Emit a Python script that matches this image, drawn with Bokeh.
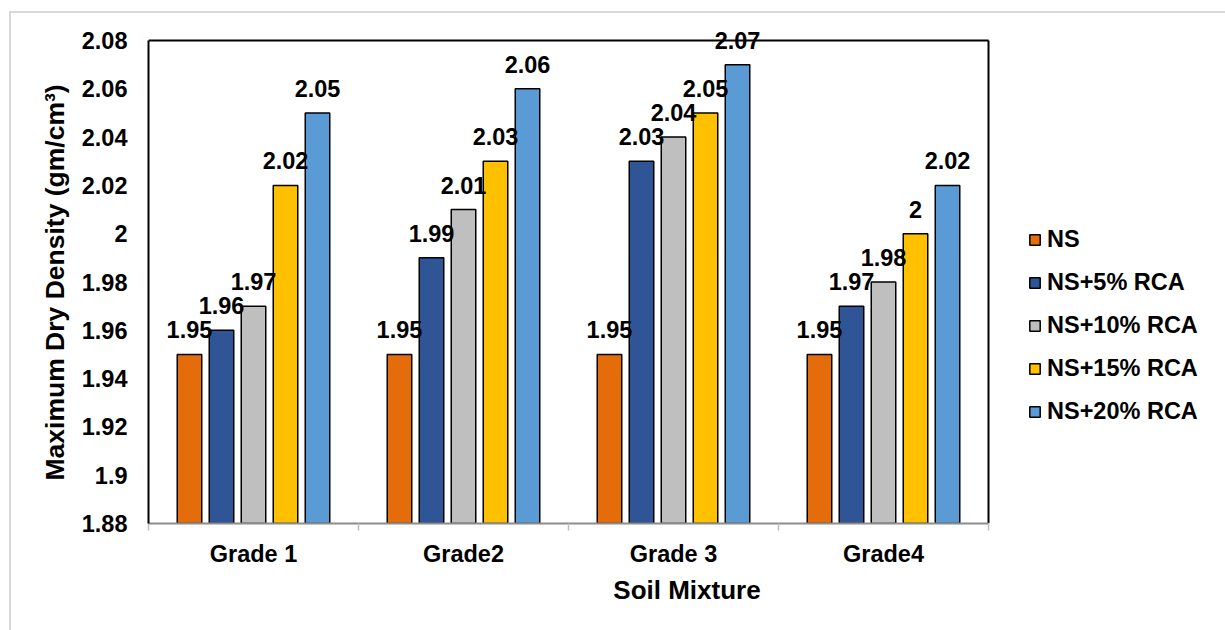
from bokeh.plotting import figure
from bokeh.models import (ColumnDataSource, FixedTicker, LinearAxis, Range1d,
                          LabelSet, Legend, LegendItem, Title)
from bokeh.core.properties import value
from bokeh.embed import file_html
from bokeh.resources import INLINE

# Maximum dry density for each soil grade and RCA replacement level
grades = ["Grade 1", "Grade2", "Grade 3", "Grade4"]
series = ["NS", "NS+5% RCA", "NS+10% RCA", "NS+15% RCA", "NS+20% RCA"]
ns = [1.95, 1.95, 1.95, 1.95]
ns_rca5 = [1.96, 1.99, 2.03, 1.97]
ns_rca10 = [1.97, 2.01, 2.04, 1.98]
ns_rca15 = [2.02, 2.03, 2.05, 2.00]
ns_rca20 = [2.05, 2.06, 2.07, 2.02]
y_ticks = [1.88, 1.90, 1.92, 1.94, 1.96, 1.98, 2.00, 2.02, 2.04, 2.06, 2.08]

colors = ["#E46C0A", "#2F5597", "#BFBFBF", "#FFC000", "#5B9BD5"]
FONT = "Liberation Sans"
TICK_SIZE = "23.5px"
TITLE_SIZE = "26px"

BAR_W = 0.1167
STEP = 0.1524

# layout in pixels (figure is inset by the chart-area frame)
OFF_X, OFF_Y = 11, 13
FIG_W, FIG_H = 1225 - OFF_X, 630 - OFF_Y
PLOT_LEFT, PLOT_W = 148 - OFF_X, 840          # value axis spans PLOT_W px
PLOT_BOTTOM, PLOT_H = 523 - OFF_Y, 483
HEAD = 22                                      # room above the top value
frame_w = FIG_W - PLOT_LEFT
frame_h = PLOT_H + HEAD
n = len(grades)
x_end = n * frame_w / PLOT_W
y_lo, y_hi = y_ticks[0], y_ticks[-1]
y_end = y_hi + (y_hi - y_lo) * HEAD / PLOT_H

p = figure(frame_width=frame_w, frame_height=frame_h,
           min_border_left=PLOT_LEFT, min_border_right=0,
           min_border_top=PLOT_BOTTOM - frame_h,
           min_border_bottom=FIG_H - PLOT_BOTTOM,
           x_range=Range1d(0, x_end), y_range=Range1d(y_lo, y_end),
           output_backend="svg", toolbar_location=None,
           x_axis_type=None, y_axis_type=None)
p.outline_line_color = None
p.background_fill_color = "white"
p.border_fill_color = "white"
p.styles = {"margin-left": f"{OFF_X}px", "margin-top": f"{OFF_Y}px",
            "outline": "2px solid #D9D9D9"}

# y axis (left) with black spine
yaxis = LinearAxis(ticker=FixedTicker(ticks=y_ticks), bounds=(y_lo, y_hi))
yaxis.major_label_overrides = {t: f"{t:g}" for t in y_ticks}
yaxis.axis_line_color = "black"
yaxis.axis_line_width = 2
yaxis.major_tick_line_color = None
yaxis.minor_tick_line_color = None
yaxis.major_tick_out = 0
yaxis.major_tick_in = 0
yaxis.major_label_standoff = 21
yaxis.major_label_text_font = FONT
yaxis.major_label_text_font_style = "bold"
yaxis.major_label_text_font_size = TICK_SIZE
yaxis.major_label_text_color = "black"
p.add_layout(yaxis, "left")

# value-axis title, centred on the 1.88-2.08 span rather than the frame
ytitle = Title(text="Maximum Dry Density (gm/cm³)", align="left",
               offset=43, standoff=18, text_font=FONT,
               text_font_style="bold", text_font_size="26.5px",
               text_color="black")
p.add_layout(ytitle, "left")

# x axis: labels at group centres, tick marks at group boundaries
centers = [i + 0.5 for i in range(n)]
bounds = [float(i) for i in range(n + 1)]
xaxis = LinearAxis(ticker=FixedTicker(ticks=centers, minor_ticks=bounds),
                   axis_label="Soil Mixture", bounds=(0, n))
xaxis.major_label_overrides = {c: g for c, g in zip(centers, grades)}
xaxis.axis_line_color = "#8C8C8C"
xaxis.axis_line_width = 2
xaxis.major_tick_line_color = None
xaxis.major_tick_out = 0
xaxis.major_tick_in = 0
xaxis.minor_tick_line_color = "#BFBFBF"
xaxis.minor_tick_line_width = 1.5
xaxis.minor_tick_out = 7
xaxis.minor_tick_in = 0
xaxis.major_label_standoff = 10
xaxis.major_label_text_font = FONT
xaxis.major_label_text_font_style = "bold"
xaxis.major_label_text_font_size = TICK_SIZE
xaxis.major_label_text_color = "black"
xaxis.axis_label_text_font = FONT
xaxis.axis_label_text_font_style = "bold"
xaxis.axis_label_text_font_size = TITLE_SIZE
xaxis.axis_label_text_color = "black"
xaxis.axis_label_standoff = 5
p.add_layout(xaxis, "below")

# dashed horizontal gridlines inside the plot box
p.ygrid.ticker = FixedTicker(ticks=y_ticks[1:-1])
p.ygrid.bounds = (0, n)
p.ygrid.grid_line_color = "#D9D9D9"
p.ygrid.grid_line_width = 1.5
p.ygrid.grid_line_dash = "9 5"
p.xgrid.grid_line_color = None

values = [ns, ns_rca5, ns_rca10, ns_rca15, ns_rca20]
items = []
for j, (name, vals, col) in enumerate(zip(series, values, colors)):
    xs = [c + (j - 2) * STEP for c in centers]
    src = ColumnDataSource(dict(x=xs, top=vals,
                                label=[f"{v:g}" for v in vals]))
    r = p.vbar(x="x", top="top", bottom=y_lo, width=BAR_W, source=src,
               fill_color=col, line_color="black", line_width=1.5)
    items.append(LegendItem(label=name, renderers=[r]))
    p.add_layout(LabelSet(x="x", y="top", text="label", source=src,
                          y_offset=16, text_align="center",
                          text_baseline="alphabetic",
                          text_font=value(FONT), text_font_style="bold",
                          text_font_size=TICK_SIZE, text_color="black"))

# black top and right edges of the plot box
p.segment(x0=[0, n], y0=[y_hi, y_lo], x1=[n, n], y1=[y_hi, y_hi],
          line_color="black", line_width=2)

legend = Legend(items=items, location=(880, 98))
legend.padding = 0
legend.margin = 0
legend.spacing = 16
legend.label_height = 27
legend.glyph_width = 13
legend.glyph_height = 13
legend.label_standoff = 6
legend.border_line_color = None
legend.background_fill_alpha = 0
legend.label_text_font = FONT
legend.label_text_font_style = "bold"
legend.label_text_font_size = TICK_SIZE
legend.label_text_color = "black"
p.add_layout(legend, "center")

open("out.html", "w").write(file_html(p, INLINE))
